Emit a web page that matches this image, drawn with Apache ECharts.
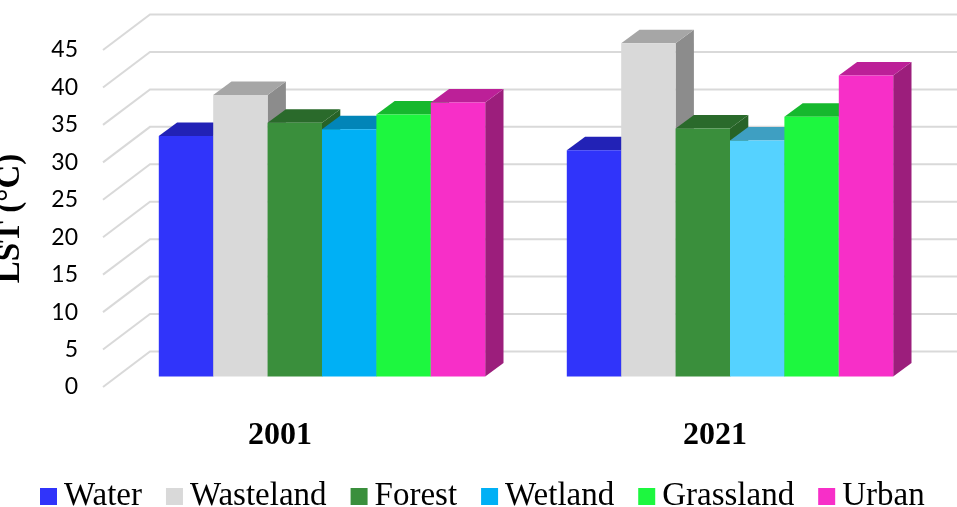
<!DOCTYPE html>
<html>
<head>
<meta charset="utf-8">
<style>html,body{margin:0;padding:0;background:#fff}#chart{width:957px;height:507px}</style>
<script src="https://cdn.jsdelivr.net/npm/echarts@6/dist/echarts.min.js"></script>
</head>
<body>
<div id="chart"></div>
<script>
// Land surface temperature by land-cover class
const years = ['2001', '2021'];
const yTicks = [0, 5, 10, 15, 20, 25, 30, 35, 40, 45];
const classes = ['Water', 'Wasteland', 'Forest', 'Wetland', 'Grassland', 'Urban'];
const water = [32.1, 30.2];
const wasteland = [37.6, 44.5];
const forest = [33.9, 33.1];
const wetland = [33.0, 31.5];
const grassland = [35.0, 34.7];
const urban = [36.6, 40.2];
const values = [water, wasteland, forest, wetland, grassland, urban];

// Face colours per class: front, top, side
const fronts = ['#3034FA', '#D9D9D9', '#3A8F3C', '#00B0F5', '#1DF73F', '#F72FC8'];
const tops = ['#2222B6', '#A6A6A6', '#2A6A2B', '#0285B8', '#16B82E', '#BC2098'];
const sides = ['#1C1C96', '#8C8C8C', '#276327', '#026D96', '#129625', '#9C1E7C'];
// Wetland is drawn in a lighter tint for 2021
const frontOverride = { '3:1': '#55D2FF' };
const topOverride = { '3:1': '#3E9FC2' };

// Oblique projection offsets, in pixels
const barLift = -10.5;        // bars stand slightly behind the front edge of the floor
const barDepth = [18.3, -13.5];
const wallShift = [47, -35.5];
const floorLeftInset = 15;    // front-left corner of the floor relative to the grid

function renderWallLine(params, api) {
  const y = api.coord([0, api.value(0)])[1];
  const x0 = params.coordSys.x - floorLeftInset;
  const x1 = x0 + wallShift[0];
  const y1 = y + wallShift[1];
  return {
    type: 'polyline',
    shape: { points: [[x0, y], [x1, y1], [api.getWidth(), y1]] },
    style: { fill: 'none', stroke: '#D9D9D9', lineWidth: 2 }
  };
}

function makeBarRenderer(k) {
  return function (params, api) {
    const cat = api.value(0);
    const top = api.coord([cat, api.value(1)]);
    const base = api.coord([cat, 0]);
    const band = api.size([1, 0])[0];
    const w = band * 0.8 / classes.length;
    const left = top[0] + (k - classes.length / 2) * w;
    const right = left + w;
    const yTop = top[1] + barLift;
    const yBase = base[1] + barLift;
    const dx = barDepth[0];
    const dy = barDepth[1];
    const key = k + ':' + cat;
    return {
      type: 'group',
      children: [
        { type: 'polygon',
          shape: { points: [[right, yTop], [right + dx, yTop + dy], [right + dx, yBase + dy], [right, yBase]] },
          style: { fill: sides[k] } },
        { type: 'polygon',
          shape: { points: [[left, yTop], [left + dx, yTop + dy], [right + dx, yTop + dy], [right, yTop]] },
          style: { fill: topOverride[key] || tops[k] } },
        { type: 'rect',
          shape: { x: left, y: yTop, width: w, height: yBase - yTop },
          style: { fill: frontOverride[key] || fronts[k] } }
      ]
    };
  };
}

const chart = echarts.init(document.getElementById('chart'), null, { renderer: 'canvas' });

const barSeries = classes.map((name, k) => ({
  name: name,
  type: 'custom',
  xAxisIndex: 0,
  yAxisIndex: 0,
  renderItem: makeBarRenderer(k),
  encode: { x: 0, y: 1 },
  itemStyle: { color: fronts[k] },
  data: values[k].map((v, i) => [i, v]),
  z: 3,
  silent: true
}));

chart.setOption({
  animation: false,
  backgroundColor: '#fff',
  legend: {
    data: classes,
    left: 35,
    top: 475,
    icon: 'rect',
    itemWidth: 17,
    itemHeight: 17,
    itemGap: 24,
    textStyle: { fontFamily: 'Liberation Serif', fontSize: 33, color: '#000', padding: [0, 0, 0, 2] }
  },
  grid: [
    { left: 118, top: 50, width: 816, height: 337, outerBoundsMode: 'none' },
    { left: 62.5, top: 50, width: 870, height: 362, outerBoundsMode: 'none' }
  ],
  xAxis: [
    { type: 'category', gridIndex: 0, data: years, axisLine: { show: false }, axisTick: { show: false }, axisLabel: { show: false } },
    { type: 'category', gridIndex: 1, data: years, axisLine: { show: false }, axisTick: { show: false },
      axisLabel: { fontFamily: 'Liberation Serif', fontWeight: 'bold', fontSize: 32, color: '#000', margin: 8 } }
  ],
  yAxis: [
    { type: 'value', gridIndex: 0, min: 0, max: 45, interval: 5,
      axisLine: { show: false }, axisTick: { show: false }, splitLine: { show: false },
      axisLabel: { fontFamily: 'Lato', fontSize: 23, color: '#000', margin: 40 },
      name: 'LST (°C)', nameLocation: 'middle', nameRotate: 90, nameGap: 91,
      nameTextStyle: { fontFamily: 'Liberation Serif', fontWeight: 'bold', fontSize: 33, color: '#000' } },
    { type: 'value', gridIndex: 1, min: 0, max: 45, show: false }
  ],
  series: [
    { name: 'walls', type: 'custom', xAxisIndex: 0, yAxisIndex: 0, renderItem: renderWallLine,
      encode: { y: 0 }, data: yTicks.map(t => [t]), z: 1, silent: true }
  ].concat(barSeries)
});
</script>
</body>
</html>
